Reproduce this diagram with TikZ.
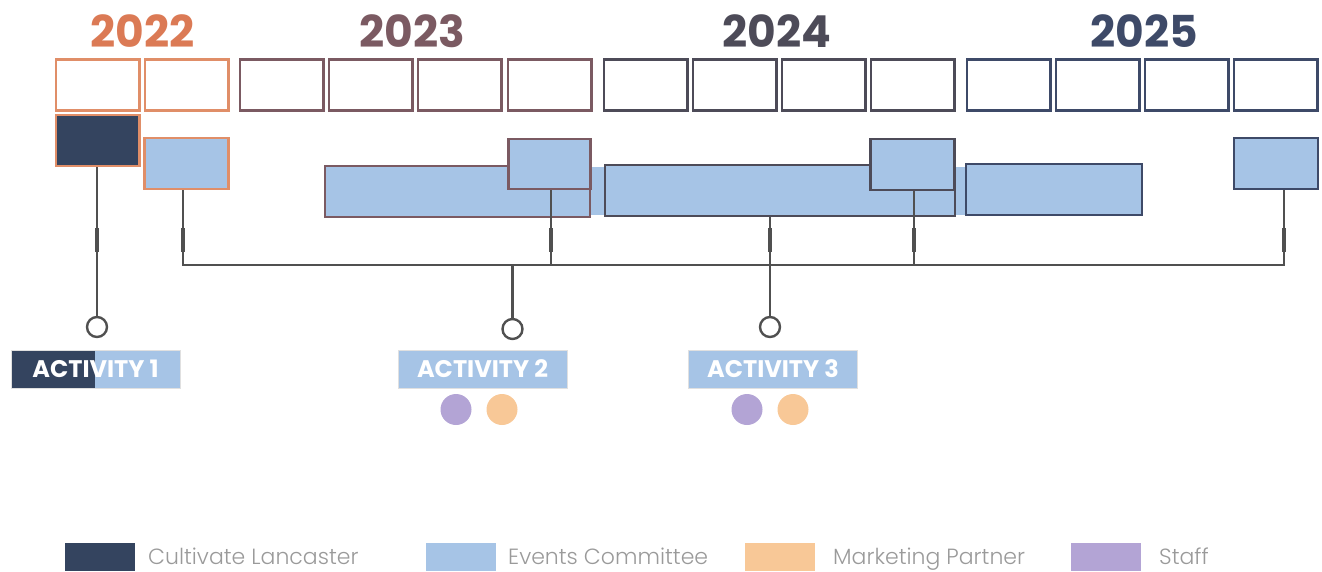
\documentclass[tikz,border=0pt]{standalone}
\usepackage{fontspec}
\setmainfont{Poppins}
\newfontfamily\legfont{Poppins Light}
\usetikzlibrary{calc}

\definecolor{navy}{HTML}{34445F}
\definecolor{skyblue}{HTML}{A6C4E6}
\definecolor{yrA}{HTML}{DB7A55}
\definecolor{yrAline}{HTML}{E08E68}
\definecolor{yrB}{HTML}{7B5A62}
\definecolor{yrC}{HTML}{4D4B58}
\definecolor{yrD}{HTML}{3E4A68}
\definecolor{peach}{HTML}{F8C897}
\definecolor{lavender}{HTML}{B3A4D5}
\definecolor{wire}{HTML}{505050}
\definecolor{legtext}{HTML}{9A9A9A}

\tikzset{
  year/.style={font=\bfseries\fontsize{44}{44}\selectfont, inner sep=0},
  month/.style={draw, line width=2.5pt, fill=white, minimum width=83.5pt, minimum height=51pt, inner sep=0},
  bar/.style={draw, line width=2.5pt, fill=skyblue, inner sep=0},
  wireline/.style={draw=wire, line width=2.6pt},
  wirethick/.style={draw=wire, line width=4.5pt},
  pin/.style={circle, draw=wire, line width=2.4pt, fill=white, minimum size=20pt, inner sep=0},
  actlabel/.style={fill=skyblue, draw=black!12, line width=1pt, minimum width=169pt, minimum height=38pt, inner sep=0,
    text=white, font=\bfseries\fontsize{24}{24}\selectfont},
  dot/.style={circle, minimum size=31pt, inner sep=0},
  legbox/.style={minimum width=70pt, minimum height=28pt, inner sep=0, anchor=north west},
  legtxt/.style={anchor=base west, inner sep=0, text=legtext, font=\legfont\fontsize{22}{22}\selectfont}
}

\begin{document}
\begin{tikzpicture}[x=1pt, y=-1pt]
\useasboundingbox (0,0) rectangle (1322,571);

% year headings
\node[year, text=yrA] (y22) at (142.5,31) {2022};
\node[year, text=yrB] (y23) at (412,31) {2023};
\node[year, text=yrC] (y24) at (777,31) {2024};
\node[year, text=yrD] (y25) at (1144,31) {2025};

% month cells
\foreach \i/\lx/\col in {1/56/yrAline, 2/145/yrAline,
    3/240/yrB, 4/329/yrB, 5/418/yrB, 6/508/yrB,
    7/604/yrC, 8/693/yrC, 9/782/yrC, 10/871/yrC,
    11/967/yrD, 12/1056/yrD, 13/1145/yrD, 14/1234/yrD}
  \node[month, draw=\col] (m\i) at (\lx+41.75,85) {};

% joining bands between the long bars
\fill[skyblue] (589,167) rectangle (606,215);
\fill[skyblue] (954,167) rectangle (967,215);

% activity bars
\node[bar, fill=navy, draw=yrAline, minimum width=83.5pt, minimum height=51pt] (a1) at (97.5,140.5) {};
\node[bar, draw=yrAline, minimum width=84pt, minimum height=51pt] (a2) at (186.5,163.5) {};
\node[bar, draw=yrB, minimum width=265pt, minimum height=51pt] (long23) at (457.5,191.5) {};
\node[bar, draw=yrB, minimum width=82pt, minimum height=50pt] (a6) at (549.5,164) {};
\node[bar, draw=yrC, minimum width=350pt, minimum height=51pt] (long24) at (780,190.5) {};
\node[bar, draw=yrC, minimum width=84pt, minimum height=51pt] (a10) at (912.5,164.5) {};
\node[bar, draw=yrD, minimum width=176pt, minimum height=51pt] (long25) at (1054,189.5) {};
\node[bar, draw=yrD, minimum width=84pt, minimum height=51pt] (a14) at (1276,163.5) {};

% pins
\node[pin] (p1) at (97,327) {};
\node[pin] (p2) at (512.5,329) {};
\node[pin] (p3) at (770,327) {};

% bus coordinates
\coordinate (busL) at (183,265);
\coordinate (busR) at (1284,265);
\coordinate (busM) at (512.5,265);

% connectors
\draw[wireline] (a1.south -| p1) -- (p1.north);
\draw[wireline] (a2.south -| busL) -- (busL) -- (busR) -- (a14.south -| busR);
\draw[wireline] (a6.south -| 551,0) -- (551,265);
\draw[wireline] (a10.south -| 914,0) -- (914,265);
\draw[wireline] (busM) -- (p2.north);
\draw[wireline] (long24.south -| p3) -- (p3.north);

% heavier joints on the drop lines
\foreach \xx in {97,183,551,770,914,1284}
  \draw[wirethick] (\xx,228) -- (\xx,252);

% activity labels
\node[actlabel, path picture={\fill[navy] (path picture bounding box.north west) rectangle ($(path picture bounding box.south west)+(84,0)$);}] (act1) at (95.5,369) {ACTIVITY 1};
\node[actlabel] (act2) at (482.5,369) {ACTIVITY 2};
\node[actlabel] (act3) at (773,369) {ACTIVITY 3};

% people involved
\node[dot, fill=lavender] (d2a) at (456,409.5) {};
\node[dot, fill=peach] (d2b) at (502,409.5) {};
\node[dot, fill=lavender] (d3a) at (747,409.5) {};
\node[dot, fill=peach] (d3b) at (793,409.5) {};

% legend
\node[legbox, fill=navy] (k1) at (65,543) {};
\node[legtxt] (t1) at (148,564) {Cultivate Lancaster};
\node[legbox, fill=skyblue] (k2) at (426,543) {};
\node[legtxt] (t2) at (508,564) {Events Committee};
\node[legbox, fill=peach] (k3) at (745,543) {};
\node[legtxt] (t3) at (833,564) {Marketing Partner};
\node[legbox, fill=lavender] (k4) at (1071,543) {};
\node[legtxt] (t4) at (1159,564) {Staff};
\end{tikzpicture}
\end{document}
